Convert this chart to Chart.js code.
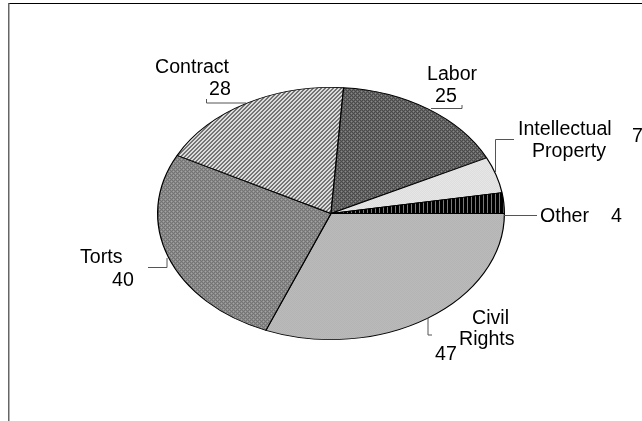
<!DOCTYPE html>
<html>
<head>
<meta charset="utf-8">
<style>html,body{margin:0;padding:0;background:#fff}canvas{display:block}</style>
<script src="https://cdn.jsdelivr.net/npm/chart.js@4"></script>
</head>
<body>
<canvas id="c" width="642" height="421"></canvas>
<script>
const categories = ["Civil Rights", "Torts", "Contract", "Labor", "Intellectual Property", "Other"];
const caseCounts = [47, 40, 28, 25, 7, 4];

const squash = 126.5 / 174;

function tile(rows, palette) {
  const h = rows.length, w = rows[0].length;
  const t = document.createElement('canvas');
  t.width = w; t.height = h;
  const x = t.getContext('2d');
  rows.forEach((r, j) => [...r].forEach((ch, i) => {
    x.fillStyle = palette[ch];
    x.fillRect(i, j, 1, 1);
  }));
  const p = document.getElementById('c').getContext('2d').createPattern(t, 'repeat');
  p.setTransform(new DOMMatrix().scale(1, 1 / squash));
  return p;
}
const fills = [
  tile(["lf","fl"], {l:'#b4b4b4', f:'#bababa'}),
  tile(["dgdg","glgd","dgdg","gdgl"], {d:'#747474', g:'#8a8a8a', l:'#a4a4a4'}),
  tile(["wwkk","wkkw","kkww","kwwk"], {w:'#dcdcdc', k:'#747474'}),
  tile(["dmdm","mlmd","dmdm","mdml"], {d:'#4a4a4a', m:'#666666', l:'#888888'}),
  tile(["ef","fe"], {e:'#e6e6e6', f:'#dedede'}),
  tile(["kkks"], {k:'#000000', s:'#7a7a7a'})
];

const FONT = '19.6px "Liberation Sans", Arial, sans-serif';
const labelTexts = [
  ["Contract", 155, 73], ["28", 209, 95],
  ["Labor", 427, 80], ["25", 435, 102],
  ["Intellectual", 518, 135], ["Property", 532, 157], ["7", 632, 142],
  ["Other", 540, 222], ["4", 611, 222],
  ["Torts", 80, 263], ["40", 112, 286],
  ["Civil", 472, 324], ["Rights", 459, 345], ["47", 435, 360]
];
const leaders = [
  [[206.5,99],[206.5,103],[246,103]],
  [[462,105],[462,108.5],[431,108.5]],
  [[514,139.5],[495.5,139.5],[495.5,172]],
  [[504,215.5],[537,215.5]],
  [[148,267.5],[167,267.5],[167,258]],
  [[428,318],[428,335],[432,335]]
];

const ellipse = {
  id: 'ellipse',
  beforeDraw(chart) {
    const c = chart.ctx;
    c.save();
    c.strokeStyle = '#000'; c.lineWidth = 1;
    c.beginPath(); c.moveTo(8, 3.5); c.lineTo(642, 3.5); c.stroke();
    c.strokeStyle = '#666'; c.lineWidth = 1.5;
    c.beginPath(); c.moveTo(8.75, 3); c.lineTo(8.75, 421); c.stroke();
    c.restore();
  },
  beforeDatasetsDraw(chart) {
    const c = chart.ctx, a = chart.getDatasetMeta(0).data[0];
    c.save();
    c.imageSmoothingEnabled = false;
    c.translate(a.x, a.y); c.scale(1, squash); c.translate(-a.x, -a.y);
  },
  afterDatasetsDraw(chart) {
    const c = chart.ctx;
    c.restore();
    c.save();
    c.strokeStyle = '#555'; c.lineWidth = 1;
    leaders.forEach(l => {
      c.beginPath();
      l.forEach((p, i) => i ? c.lineTo(p[0], p[1]) : c.moveTo(p[0], p[1]));
      c.stroke();
    });
    c.fillStyle = '#000'; c.font = FONT; c.textBaseline = 'alphabetic'; c.textAlign = 'left';
    labelTexts.forEach(t => c.fillText(t[0], t[1], t[2]));
    c.restore();
  }
};

new Chart(document.getElementById('c'), {
  type: 'pie',
  data: {
    labels: categories,
    datasets: [{
      data: caseCounts,
      backgroundColor: fills,
      borderColor: '#000',
      borderWidth: 1.2,
      borderAlign: 'center'
    }]
  },
  options: {
    responsive: false,
    animation: false,
    rotation: 90,
    layout: { padding: { left: 157, right: 137, top: 39, bottom: 33 } },
    plugins: { legend: { display: false }, tooltip: { enabled: false } }
  },
  plugins: [ellipse]
});
</script>
</body>
</html>
